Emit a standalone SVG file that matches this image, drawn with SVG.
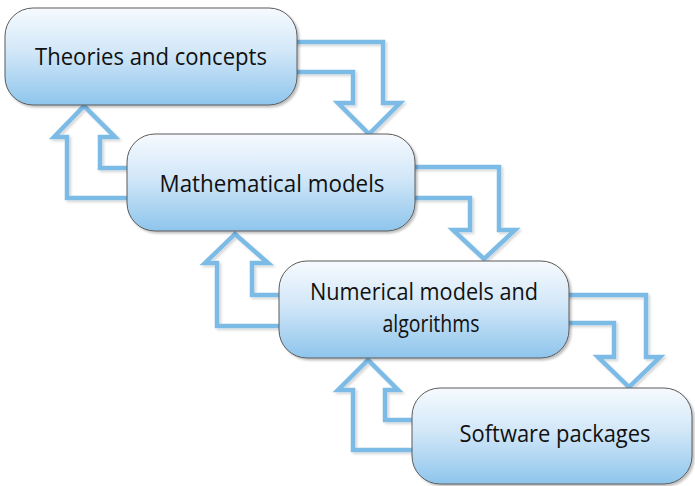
<svg xmlns="http://www.w3.org/2000/svg" width="695" height="486" viewBox="0 0 695 486">
  <defs>
    <linearGradient id="boxGrad" x1="0" y1="0" x2="0" y2="1">
      <stop offset="0" stop-color="#f6fafe"/>
      <stop offset="0.45" stop-color="#d2e7f8"/>
      <stop offset="1" stop-color="#8ec5ec"/>
    </linearGradient>
    <filter id="shadow" x="-10%" y="-10%" width="130%" height="130%">
      <feDropShadow dx="2" dy="2" stdDeviation="1.2" flood-color="#000" flood-opacity="0.25"/>
    </filter>
    <filter id="ashadow" x="-10%" y="-10%" width="130%" height="130%">
      <feDropShadow dx="2" dy="2" stdDeviation="1" flood-color="#000" flood-opacity="0.15"/>
    </filter>
  </defs>
  <style>
    .box { fill: url(#boxGrad); stroke: #5a5a5a; stroke-width: 1; filter: url(#shadow); }
    .arrow { fill: none; stroke: #7dbbe7; stroke-width: 4.5; stroke-linejoin: miter; }
    .label { font-family: "Open Sans", "Liberation Sans", sans-serif; font-size: 24px; fill: #111; text-anchor: middle; }
    .small { font-size: 23px; }
  </style>
  <rect width="695" height="486" fill="#ffffff"/>

  <g id="connectors" filter="url(#ashadow)">
    <path class="arrow" d="M 287 42 H 383 V 103 H 400 L 369 134 L 338 103 H 353 V 72 H 287"/>
    <path class="arrow" d="M 137 168 H 100 V 137 H 115 L 84 106 L 54 137 H 67 V 198 H 137"/>
    <path class="arrow" d="M 405 167 H 499 V 230 H 515 L 484 259 L 453 230 H 470 V 198 H 405"/>
    <path class="arrow" d="M 289 295 H 252 V 263 H 268 L 235 234 L 205 263 H 217 V 326 H 289"/>
    <path class="arrow" d="M 559 295 H 646 V 357 H 660 L 629 387 L 598 357 H 614 V 323 H 559"/>
    <path class="arrow" d="M 422 420 H 385 V 390 H 398 L 368 360 L 338 390 H 353 V 450 H 422"/>
  </g>

  <g id="theories">
    <rect class="box" x="5" y="8" width="292" height="97" rx="28" ry="28"/>
    <text class="label" x="151" y="65" textLength="232" lengthAdjust="spacingAndGlyphs">Theories and concepts</text>
  </g>
  <g id="mathematical">
    <rect class="box" x="127" y="134" width="288" height="97" rx="28" ry="28"/>
    <text class="label" x="272" y="192" textLength="225" lengthAdjust="spacingAndGlyphs">Mathematical models</text>
  </g>
  <g id="numerical">
    <rect class="box" x="279" y="261" width="290" height="97" rx="28" ry="28"/>
    <text class="label small" x="424" y="300" textLength="228" lengthAdjust="spacingAndGlyphs">Numerical models and</text>
    <text class="label small" x="431" y="332" textLength="97" lengthAdjust="spacingAndGlyphs">algorithms</text>
  </g>
  <g id="software">
    <rect class="box" x="412" y="388" width="280" height="96" rx="28" ry="28"/>
    <text class="label" x="555" y="442" textLength="191" lengthAdjust="spacingAndGlyphs">Software packages</text>
  </g>
</svg>
